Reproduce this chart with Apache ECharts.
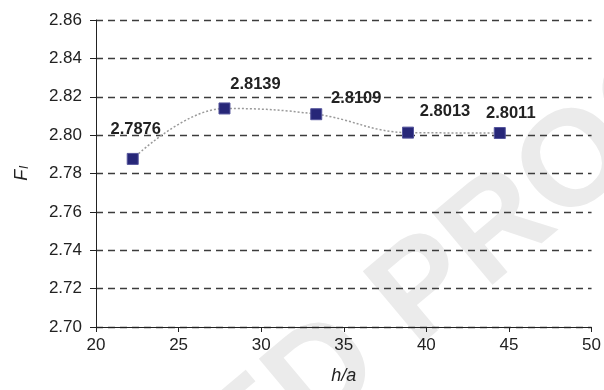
<!DOCTYPE html>
<html>
<head>
<meta charset="utf-8">
<script src="https://cdn.jsdelivr.net/npm/echarts@6/dist/echarts.min.js"></script>
<style>
  html, body { margin: 0; padding: 0; background: #fff; }
  #chart { width: 604px; height: 390px; }
</style>
</head>
<body>
<div id="chart"></div>
<script>
// h/a ratios and the corresponding F_l values
const hOverA = [200 / 9, 250 / 9, 300 / 9, 350 / 9, 400 / 9];
const fl = [2.7876, 2.8139, 2.8109, 2.8013, 2.8011];
const xTicks = [20, 25, 30, 35, 40, 45, 50];
const yTicks = [2.70, 2.72, 2.74, 2.76, 2.78, 2.80, 2.82, 2.84, 2.86];

// label placement relative to each marker (layout only)
const labelOffsets = [[3, -29], [31, -24], [40, -16], [37, -21], [11, -20]];

const FONT = 'Liberation Sans, Arial, sans-serif';

const points = hOverA.map((x, i) => ({
  value: [x, fl[i]],
  label: { offset: labelOffsets[i] }
}));

const chart = echarts.init(document.getElementById('chart'), null, { renderer: 'canvas' });

// watermark placement along a 40° diagonal
const ang = 40 * Math.PI / 180;
const wmSize = 136;
const dir = [Math.cos(ang), -Math.sin(ang)];
const pStart = [392, 320];
const dEnd = [pStart[0] - dir[0] * 0.278 * wmSize, pStart[1] - dir[1] * 0.278 * wmSize];
const wmColor = '#ebebeb';

chart.setOption({
  animation: false,
  backgroundColor: '#fff',
  graphic: [
    {
      type: 'text', z: -10, x: pStart[0], y: pStart[1], rotation: ang,
      style: { text: 'PROOF', fontFamily: FONT, fontWeight: 'bold', fontSize: wmSize,
               fill: wmColor, align: 'left', verticalAlign: 'middle' }
    },
    {
      type: 'text', z: -10, x: dEnd[0], y: dEnd[1], rotation: ang,
      style: { text: 'UNCORRECTED', fontFamily: FONT, fontWeight: 'bold', fontSize: wmSize,
               fill: wmColor, align: 'right', verticalAlign: 'middle' }
    }
  ],
  grid: { left: 96, right: 9, top: 20, bottom: 63, containLabel: false },
  xAxis: {
    type: 'value',
    min: xTicks[0], max: xTicks[xTicks.length - 1], interval: 5,
    name: 'h/a', nameLocation: 'middle', nameGap: 40,
    nameTextStyle: { fontFamily: FONT, fontStyle: 'italic', fontSize: 18, color: '#222' },
    axisLine: { show: true, lineStyle: { color: '#222', width: 1 } },
    axisTick: { show: true, length: 5, lineStyle: { color: '#222' } },
    axisLabel: { fontFamily: FONT, fontSize: 17, color: '#222', margin: 10,
                 formatter: v => String(v) },
    splitLine: { show: false }
  },
  yAxis: {
    type: 'value',
    min: yTicks[0], max: yTicks[yTicks.length - 1], interval: 0.02,
    name: '{f|F}{s|l}', nameLocation: 'middle', nameGap: 65, nameRotate: 90,
    nameTextStyle: {
      rich: {
        f: { fontFamily: FONT, fontStyle: 'italic', fontSize: 18, color: '#222' },
        s: { fontFamily: FONT, fontStyle: 'italic', fontSize: 12, color: '#222',
             verticalAlign: 'bottom', padding: [6, 0, 0, 1] }
      }
    },
    axisLine: { show: true, lineStyle: { color: '#222', width: 1 } },
    axisTick: { show: true, length: 6, lineStyle: { color: '#222' } },
    axisLabel: { fontFamily: FONT, fontSize: 17, color: '#222', margin: 14,
                 formatter: v => v.toFixed(2) },
    splitLine: { show: true, lineStyle: { color: '#3c3c3c', width: 1.3, type: [7, 5] } }
  },
  series: [{
    type: 'line',
    data: points,
    smooth: 0.4,
    symbol: 'rect',
    symbolSize: 11,
    itemStyle: { color: '#272778', borderColor: '#55559c', borderWidth: 1 },
    lineStyle: { color: '#9a9a9a', width: 1.5, type: [2, 2] },
    label: {
      show: true, position: 'inside',
      fontFamily: FONT, fontWeight: 'bold', fontSize: 16.5, color: '#222',
      formatter: p => p.value[1].toFixed(4)
    },
    z: 3
  }]
});
</script>
</body>
</html>
